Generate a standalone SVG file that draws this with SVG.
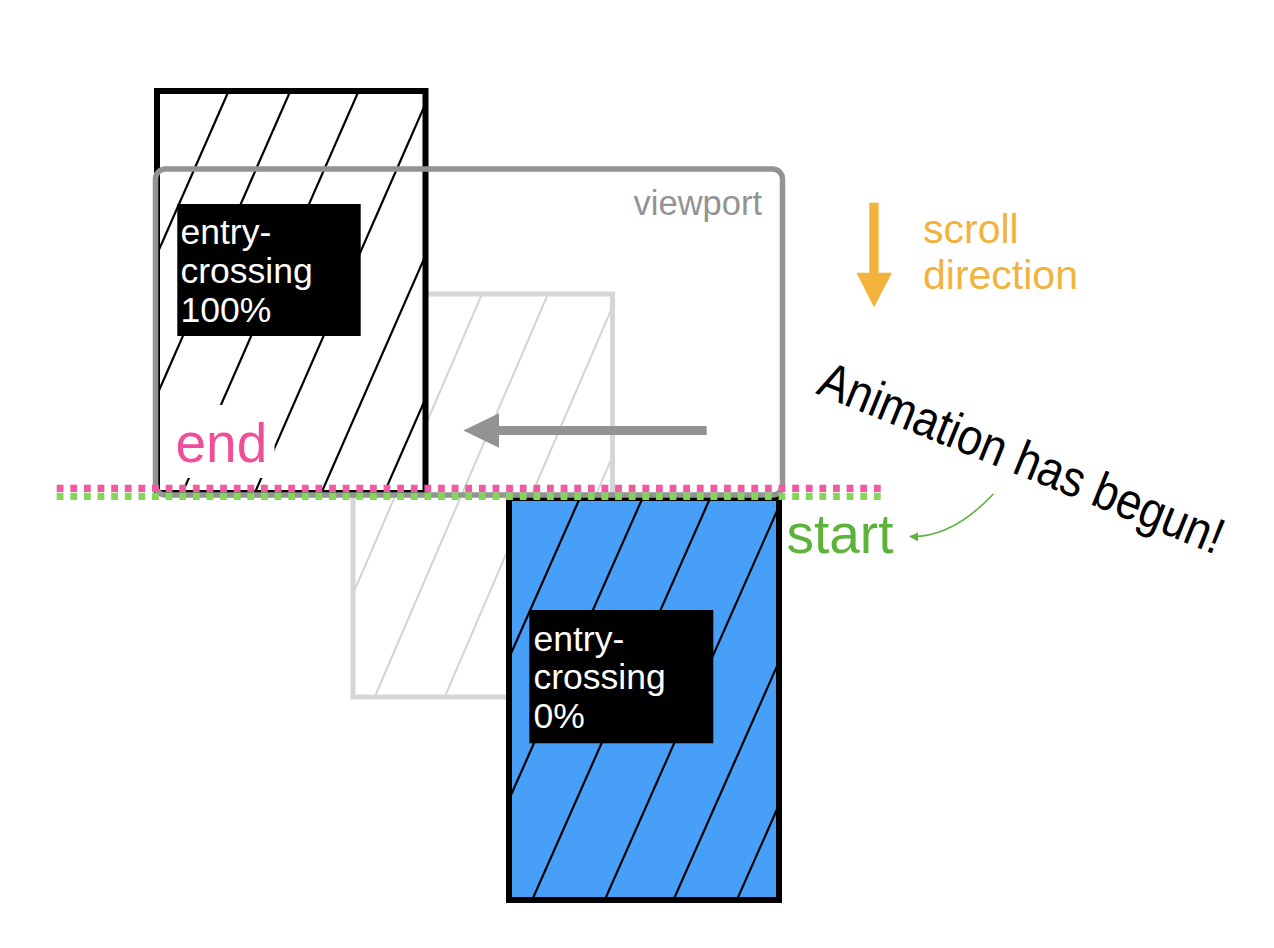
<svg xmlns="http://www.w3.org/2000/svg" width="1274" height="948" viewBox="0 0 1274 948">
<style>
.box{stroke:#000;stroke-width:6}
.hatch{stroke:#000;stroke-width:2.2;fill:none}
.ghatch{stroke:#d3d3d3;stroke-width:2;fill:none}
.lbl{font-family:"Liberation Sans",Arial,sans-serif;font-size:35.5px;fill:#fff}
.big{font-family:"Liberation Sans",Arial,sans-serif;font-size:55px}
.dots{fill:none;stroke-width:7.3;stroke-dasharray:6.8 6.82}
</style>
<defs>
<clipPath id="cBlack"><rect x="157" y="91" width="268.5" height="402"/></clipPath>
<clipPath id="cBlue"><rect x="509" y="498" width="270" height="402"/></clipPath>
<clipPath id="cGhost"><rect x="353" y="294" width="259.5" height="403"/></clipPath>
<marker id="gHead" viewBox="0 0 10 10" refX="9" refY="5" markerWidth="9" markerHeight="9" markerUnits="userSpaceOnUse" orient="auto">
<path d="M0,0 L10,5 L0,10 Z" fill="#5db33a"/>
</marker>
</defs>
<rect width="1274" height="948" fill="#fff"/>

<g id="ghost-box">
<rect x="353" y="294" width="259.5" height="403" fill="#fff"/>
<g clip-path="url(#cGhost)" class="ghatch">
<line x1="425.6" y1="286" x2="245" y2="706"/>
<line x1="485.4" y1="286" x2="304.8" y2="706"/>
<line x1="551.4" y1="286" x2="370.8" y2="706"/>
<line x1="621.4" y1="286" x2="440.8" y2="706"/>
<line x1="685.8" y1="286" x2="505.2" y2="706"/>
<line x1="746.6" y1="286" x2="566" y2="706"/>
</g>
<rect x="353" y="294" width="259.5" height="403" fill="none" stroke="#d6d6d6" stroke-width="5"/>
</g>

<g id="end-box">
<rect x="157" y="91" width="268.5" height="402" fill="#fff"/>
<g clip-path="url(#cBlack)" class="hatch">
<line x1="231.7" y1="84" x2="47.5" y2="504"/>
<line x1="293.4" y1="84" x2="109.2" y2="504"/>
<line x1="361.7" y1="84" x2="177.5" y2="504"/>
<line x1="434.1" y1="84" x2="249.9" y2="504"/>
<line x1="500.7" y1="84" x2="316.5" y2="504"/>
<line x1="563.5" y1="84" x2="379.3" y2="504"/>
</g>
<rect x="157" y="91" width="268.5" height="402" fill="none" class="box"/>
<rect x="177.3" y="204" width="183.4" height="132" fill="#000"/>
<text class="lbl"><tspan x="180.5" y="244">entry-</tspan><tspan x="180.5" y="282.7">crossing</tspan><tspan x="180.5" y="321.7">100%</tspan></text>
<rect x="160" y="405" width="114.5" height="73" fill="#fff"/>
<text class="big" x="175.5" y="461.7" fill="#ee4e9a">end</text>
</g>

<g id="start-box">
<rect x="509" y="498" width="270" height="402" fill="#489ff8"/>
<g clip-path="url(#cBlue)" class="hatch">
<line x1="583.4" y1="490" x2="397.4" y2="910"/>
<line x1="646.1" y1="490" x2="460.1" y2="910"/>
<line x1="713.7" y1="490" x2="527.7" y2="910"/>
<line x1="786.3" y1="490" x2="600.3" y2="910"/>
<line x1="855" y1="490" x2="669" y2="910"/>
<line x1="918.4" y1="490" x2="732.4" y2="910"/>
</g>
<rect x="509" y="498" width="270" height="402" fill="none" class="box"/>
<rect x="529.3" y="610" width="184" height="133.3" fill="#000"/>
<text class="lbl"><tspan x="533.5" y="650.7">entry-</tspan><tspan x="533.5" y="689.3">crossing</tspan><tspan x="533.5" y="728.3">0%</tspan></text>
</g>

<g id="viewport">
<rect x="155.5" y="169" width="627" height="326" rx="10" fill="none" stroke="#939393" stroke-width="5.5"/>
<text x="762" y="215" text-anchor="end" font-family="Liberation Sans, Arial, sans-serif" font-size="34.5" fill="#939393">viewport</text>
</g>

<g id="connectors">
<path d="M706.7,430.5 H496" stroke="#939393" stroke-width="9" fill="none"/>
<path d="M463.3,430.5 L499,413.3 L499,447.7 Z" fill="#939393"/>
<path d="M874,202.7 V275" stroke="#f2b33d" stroke-width="9.3" fill="none"/>
<path d="M856.5,272.7 L892,272.7 L874,307.3 Z" fill="#f2b33d"/>
<path d="M993.3,494 Q952,538 910,536.5" stroke="#5db33a" stroke-width="1.6" fill="none" marker-end="url(#gHead)"/>
</g>

<g id="scroll-label">
<text font-family="Liberation Sans, Arial, sans-serif" font-size="41" fill="#f2b33d"><tspan x="923" y="243.3">scroll</tspan><tspan x="923" y="288.5">direction</tspan></text>
</g>

<g id="start-label">
<text class="big" x="786.5" y="553" fill="#5db33a">start</text>
</g>

<g id="note">
<text transform="translate(815,393) rotate(22)" font-family="Liberation Sans, Arial, sans-serif" font-size="51" fill="#000" textLength="432" lengthAdjust="spacingAndGlyphs">Animation has begun!</text>
</g>

<g id="lines">
<line x1="56.7" y1="488.3" x2="881" y2="488.3" class="dots" stroke="#ef5aa0"/>
<line x1="56.7" y1="496.3" x2="881" y2="496.3" class="dots" stroke="#84d65a"/>
</g>
</svg>
